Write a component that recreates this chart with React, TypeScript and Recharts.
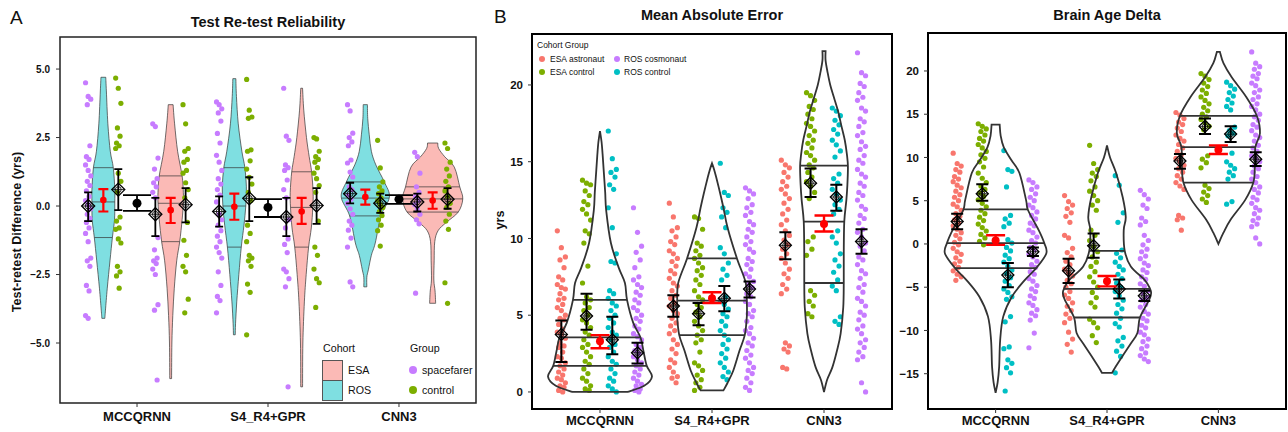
import React from 'react';
import { ScatterChart, Scatter, XAxis, YAxis, ReferenceArea } from 'recharts';

const FONT = '"Liberation Sans", Arial, Helvetica, sans-serif';
const PURPLE = '#C77CFF';
const GREEN = '#7CAE00';
const CYAN = '#00BFC4';
const SALMON = '#F8766D';

const models = ['MCCQRNN', 'S4_R4+GPR', 'CNN3'];

// ---------- A: test re-test differences (yrs), one list per model ----------
const trtRosSpacefarer = [
  [4.5, 4.0, 3.9, 3.7, 2.2, 1.8, 1.7, 1.5, 1.3, 1.1, 0.9, 0.75, 0.55, 0.35, 0.2, 0.05, -0.1, -0.3, -0.45, -0.6, -0.8, -1.0, -1.3, -1.9, -2.0, -2.2, -2.9, -3.1, -4.0, -4.1],
  [3.8, 3.7, 3.55, 3.4, 3.1, 2.65, 2.3, 1.85, 1.6, 1.3, 1.0, 0.8, 0.6, 0.4, 0.15, -0.3, -0.5, -0.7, -0.9, -1.1, -1.3, -1.5, -1.7, -1.9, -2.4, -2.9, -3.3, -3.45, -3.9],
  [3.7, 3.47, 2.66, 2.5, 2.34, 2.2, 1.68, 1.57, 1.24, 1.06, 0.7, 0.6, 0.4, 0.25, 0.1, -0.1, -0.3, -0.55, -0.7, -0.88, -1.17, -1.5, -2.77, -2.95],
];
const trtRosControl = [
  [4.67, 4.3, 3.75, 2.85, 2.55, 2.3, 2.2, 2.1, 1.2, 0.9, 0.5, -0.4, -0.55, -0.8, -0.85, -1.2, -1.35, -2.2, -2.4, -2.55, -3.0],
  [4.62, 3.5, 3.25, 3.2, 2.05, 2.0, 1.65, 1.35, 1.05, 0.8, 0.5, 0.2, -0.7, -1.0, -1.3, -1.8, -1.9, -2.0, -2.2, -2.85, -3.15, -4.7],
  [2.4, 1.39, 0.88, 0.7, 0.55, 0.45, 0.3, 0.2, 0.05, -0.05, -0.2, -0.35, -0.5, -0.7, -0.9, -1.46],
];
const trtEsaSpacefarer = [
  [3.0, 2.9, 1.75, 1.35, 1.0, 0.85, 0.7, 0.5, 0.3, -1.15, -1.6, -1.9, -2.0, -2.1, -2.3, -2.5, -3.6, -3.8, -6.35],
  [4.3, 2.55, 2.4, 1.5, 1.4, 1.3, 0.95, 0.6, 0.3, -0.5, -0.8, -1.2, -1.4, -1.7, -2.3, -2.4, -2.65, -2.95, -6.6],
  [1.96, 1.8, 1.2, 0.7, 0.5, 0.35, 0.2, 0.05, -0.1, -0.3, -0.5, -0.65, -3.18],
];
const trtEsaControl = [
  [3.7, 3.0, 2.1, 2.0, 1.7, 1.6, 1.3, 1.2, 0.85, 0.6, 0.3, -0.6, -1.25, -1.8, -2.2, -2.4, -3.4, -3.9],
  [2.5, 2.45, 2.0, 1.8, 1.7, 1.6, 1.4, 1.2, 1.0, 0.75, 0.5, -0.55, -1.5, -1.8, -2.3, -2.65, -2.8, -3.7],
  [2.3, 2.1, 1.6, 1.35, 1.1, 0.9, 0.7, 0.55, 0.35, 0.1, -0.05, -0.3, -0.55, -0.85, -2.8, -3.55],
];
// [mean, lower, upper] per model
const trtRosSpacefarerMean = [[0.0, -0.55, 0.5], [-0.2, -0.75, 0.35], [0.45, 0.1, 0.85]];
const trtRosControlMean = [[0.6, -0.15, 1.35], [0.28, -0.55, 1.05], [0.1, -0.25, 0.45]];
const trtEsaSpacefarerMean = [[-0.3, -1.1, 0.3], [-0.4, -1.1, 0.3], [0.15, -0.2, 0.45]];
const trtEsaControlMean = [[0.05, -0.6, 0.65], [0.02, -0.65, 0.65], [0.25, -0.1, 0.65]];
const trtRosMean = [[0.22, -0.2, 0.62], [-0.03, -0.5, 0.45], [0.33, 0.05, 0.6]];
const trtEsaMean = [[-0.15, -0.62, 0.3], [-0.2, -0.65, 0.3], [0.2, -0.1, 0.5]];
const trtAllMean = [[0.1, -0.18, 0.4], [-0.05, -0.4, 0.25], [0.25, 0.08, 0.4]];
// violin density profiles [value, density]
const trtRosViolin = [
  [[4.7, 0.08], [4.2, 0.1], [3.0, 0.15], [2.0, 0.23], [1.4, 0.33], [0.6, 0.38], [0.15, 0.38], [-0.5, 0.37], [-1.15, 0.3], [-2.0, 0.22], [-3.0, 0.13], [-3.8, 0.07], [-4.1, 0.05]],
  [[4.65, 0.05], [4.0, 0.07], [3.0, 0.13], [2.0, 0.25], [1.4, 0.35], [0.7, 0.4], [0.0, 0.38], [-0.7, 0.32], [-1.5, 0.23], [-2.5, 0.15], [-3.5, 0.08], [-4.3, 0.04], [-4.7, 0.03]],
  [[3.7, 0.07], [3.2, 0.08], [2.6, 0.13], [2.0, 0.2], [1.5, 0.35], [0.88, 0.63], [0.33, 0.8], [-0.36, 0.52], [-1.35, 0.33], [-1.8, 0.2], [-2.33, 0.1], [-2.6, 0.05], [-2.95, 0.05]],
];
const trtEsaViolin = [
  [[3.7, 0.08], [3.0, 0.13], [2.0, 0.23], [1.1, 0.38], [0.5, 0.42], [0.1, 0.42], [-0.5, 0.38], [-1.3, 0.3], [-2.0, 0.2], [-3.0, 0.12], [-4.0, 0.07], [-5.0, 0.04], [-6.3, 0.03]],
  [[4.3, 0.03], [3.5, 0.07], [2.5, 0.16], [1.8, 0.25], [1.25, 0.33], [0.5, 0.38], [-0.05, 0.37], [-0.8, 0.32], [-1.5, 0.23], [-2.5, 0.15], [-3.5, 0.09], [-5.0, 0.04], [-6.6, 0.03]],
  [[2.3, 0.17], [2.1, 0.2], [1.8, 0.4], [1.42, 0.72], [0.7, 0.9], [0.26, 1.0], [-0.22, 0.85], [-0.6, 0.45], [-0.9, 0.18], [-1.3, 0.07], [-2.0, 0.05], [-2.7, 0.04], [-3.1, 0.08], [-3.55, 0.1]],
];
const trtRosQuantiles = [[1.4, 0.15, -1.15], [1.4, 0.0, -1.5], [0.88, 0.29, -0.36]];
const trtEsaQuantiles = [[1.1, 0.1, -1.3], [1.25, -0.05, -1.5], [0.7, 0.26, -0.22]];

// ---------- B: mean absolute error (yrs) ----------
const maeEsaAstronaut = [
  [10.5, 9.4, 8.8, 8.6, 8.1, 7.5, 7.3, 7.0, 6.8, 6.7, 6.4, 6.1, 6.0, 5.7, 5.5, 5.3, 5.0, 4.8, 4.7, 4.4, 4.1, 3.9, 3.8, 3.5, 3.2, 3.0, 2.9, 2.6, 2.3, 2.2, 1.9, 1.7, 1.5, 1.3, 1.1, 0.9, 0.8, 0.6, 0.4, 0.3, 0.1, 0.0],
  [12.3, 11.4, 10.7, 10.5, 10.1, 9.8, 9.6, 9.2, 9.0, 8.7, 8.5, 8.2, 7.9, 7.7, 7.4, 7.1, 6.9, 6.6, 6.3, 6.1, 5.8, 5.6, 5.3, 5.1, 4.8, 4.5, 4.3, 4.0, 3.8, 3.4, 3.1, 2.8, 2.5, 2.1, 1.9, 1.6, 1.3, 1.0, 0.9, 0.6],
  [15.1, 14.8, 14.6, 14.3, 14.0, 13.7, 13.4, 13.2, 12.9, 12.6, 12.3, 11.9, 11.6, 11.2, 10.9, 10.5, 10.2, 9.9, 9.6, 9.3, 9.0, 8.7, 8.4, 8.0, 7.7, 7.4, 7.0, 6.7, 6.4, 3.2, 3.0, 2.8, 2.6, 1.6, 1.5],
];
const maeEsaControl = [
  [13.8, 13.6, 13.5, 13.1, 12.8, 12.4, 12.2, 11.9, 11.6, 11.2, 10.5, 10.3, 9.7, 8.2, 7.1, 6.2, 6.0, 5.8, 5.5, 5.3, 5.0, 4.7, 4.5, 4.2, 3.9, 3.7, 3.4, 3.1, 2.9, 2.6, 2.3, 2.0, 1.8, 1.5, 1.2, 0.9, 0.7, 0.4, 0.2, 0.1],
  [11.4, 11.3, 10.6, 9.7, 9.5, 9.2, 8.9, 8.7, 8.4, 8.1, 7.9, 7.6, 7.3, 7.0, 6.6, 6.2, 6.0, 5.7, 5.5, 5.2, 4.9, 4.6, 4.3, 4.0, 3.7, 3.4, 3.2, 2.6, 1.9, 1.7, 1.4, 1.1, 0.8, 0.6, 0.3, 0.1],
  [19.5, 19.3, 19.0, 18.6, 18.4, 18.1, 17.8, 17.5, 17.3, 17.0, 16.7, 16.4, 16.2, 15.9, 15.6, 15.4, 15.1, 14.8, 14.6, 14.3, 14.0, 13.7, 13.4, 13.0, 12.6, 10.1, 9.8, 9.3, 8.9, 6.6, 6.3, 5.9, 5.6, 5.1, 4.9],
];
const maeRosControl = [
  [17.0, 15.2, 14.5, 14.3, 14.0, 13.5, 13.2, 12.0, 10.7, 9.0, 8.5, 8.4, 6.6, 6.4, 6.1, 5.8, 5.6, 5.3, 5.0, 4.8, 4.5, 4.2, 3.9, 3.7, 3.4, 3.1, 2.9, 2.6, 2.3, 2.0, 1.8, 1.5, 1.2, 0.9, 0.7, 0.4, 0.2, 0.0],
  [14.9, 13.0, 12.8, 12.0, 11.7, 11.4, 10.7, 9.4, 9.0, 8.4, 8.0, 7.6, 7.3, 6.2, 5.9, 5.7, 5.4, 5.1, 4.9, 4.6, 4.3, 4.0, 3.7, 3.4, 3.1, 2.8, 2.5, 2.2, 1.9, 1.6, 1.3, 1.0, 0.8],
  [18.5, 18.3, 18.0, 17.7, 17.4, 17.1, 16.8, 16.4, 16.1, 15.7, 15.3, 14.2, 13.9, 13.6, 13.2, 12.9, 12.5, 12.2, 11.9, 11.6, 10.5, 10.1, 9.7, 9.0, 8.6, 8.2, 7.8, 7.3, 6.9, 6.6, 4.9, 4.6, 4.4],
];
const maeRosCosmonaut = [
  [12.0, 10.4, 9.5, 9.1, 8.6, 8.1, 7.5, 7.3, 7.0, 6.8, 6.5, 6.3, 6.0, 5.8, 5.5, 5.3, 5.0, 4.8, 4.6, 4.3, 4.1, 3.8, 3.6, 3.4, 3.1, 2.9, 2.7, 2.5, 2.3, 2.1, 1.9, 1.7, 1.5, 1.3, 1.1, 0.9, 0.7, 0.5, 0.4, 0.2, 0.1, 0.0],
  [13.3, 13.1, 12.9, 12.6, 12.2, 12.0, 11.7, 11.5, 11.1, 10.9, 10.6, 10.4, 10.1, 9.8, 9.6, 9.3, 9.1, 8.7, 8.5, 8.3, 8.0, 7.7, 7.5, 7.2, 7.0, 6.8, 6.4, 6.2, 5.9, 5.7, 5.3, 5.1, 4.9, 4.6, 4.2, 4.0, 3.8, 3.5, 3.2, 3.0, 2.7, 2.4, 2.2, 1.9, 1.6, 1.4, 1.2, 0.9, 0.6, 0.3, 0.1],
  [22.1, 20.8, 20.6, 20.1, 19.9, 19.5, 19.2, 19.0, 18.5, 18.3, 17.8, 17.6, 17.3, 16.9, 16.7, 16.3, 16.0, 15.8, 15.4, 15.1, 14.9, 14.5, 14.2, 14.0, 13.6, 13.4, 13.0, 12.8, 12.5, 12.1, 11.9, 11.5, 11.3, 11.0, 10.6, 10.4, 10.1, 9.7, 9.5, 9.2, 8.8, 8.6, 8.3, 7.9, 7.7, 7.4, 7.0, 6.8, 6.5, 6.1, 5.9, 5.6, 5.2, 5.0, 4.7, 4.3, 4.1, 3.8, 3.4, 3.2, 2.9, 2.6, 2.3, 2.1, 0.6, 0.0],
];
const maeEsaAstronautMean = [[3.75, 1.95, 4.65], [5.6, 4.9, 6.3], [9.55, 8.65, 10.4]];
const maeEsaControlMean = [[4.95, 4.05, 6.4], [5.1, 4.35, 5.8], [13.6, 12.7, 14.55]];
const maeRosControlMean = [[3.4, 2.45, 4.9], [6.1, 5.25, 6.9], [12.7, 11.8, 13.5]];
const maeRosCosmonautMean = [[2.55, 1.85, 3.2], [6.7, 6.15, 7.2], [9.8, 9.0, 10.6]];
const maeAllMean = [[3.3, 2.85, 3.7], [6.1, 5.8, 6.5], [10.95, 10.45, 11.5]];
const maeViolin = [
  [[0, 0.53], [0.4, 0.85], [1.0, 1.0], [1.7, 0.9], [2.6, 0.84], [3.55, 0.78], [4.5, 0.64], [6.0, 0.52], [7.1, 0.48], [8.1, 0.36], [9.7, 0.21], [11.8, 0.12], [13.0, 0.1], [14.5, 0.07], [15.5, 0.05], [16.3, 0.03], [17.0, 0.0]],
  [[0.1, 0.22], [0.6, 0.3], [1.4, 0.41], [2.7, 0.53], [3.7, 0.63], [4.9, 0.67], [5.9, 0.67], [7.1, 0.65], [8.7, 0.48], [10.7, 0.3], [12.0, 0.22], [12.9, 0.16], [14.0, 0.08], [14.5, 0.04], [14.9, 0.0]],
  [[0, 0], [0.8, 0.06], [1.6, 0.16], [2.7, 0.25], [3.8, 0.32], [5.5, 0.37], [7.1, 0.38], [9.0, 0.38], [11.1, 0.39], [12.5, 0.43], [13.5, 0.45], [14.7, 0.46], [15.5, 0.44], [16.4, 0.4], [17.4, 0.33], [18.3, 0.27], [19.2, 0.19], [20.0, 0.12], [20.8, 0.07], [21.6, 0.03], [22.2, 0.03]],
];
const maeQuantiles = [[6.0, 3.55, 1.7], [8.7, 5.95, 3.7], [14.75, 11.1, 7.1]];

// ---------- C: brain age delta (yrs) ----------
const deltaEsaAstronaut = [
  [10.5, 9.3, 9.0, 8.6, 8.3, 7.8, 7.5, 7.2, 6.8, 6.5, 6.1, 5.7, 5.4, 5.0, 4.6, 4.3, 3.9, 3.5, 3.2, 2.8, 2.4, 2.1, 1.7, 1.3, 1.0, 0.6, 0.2, -0.1, -0.5, -0.9, -1.2, -1.6, -2.0, -2.3, -2.7, -3.1, -3.5, -3.8, -4.2],
  [5.6, 4.9, 4.5, 4.1, 3.6, 3.2, 2.5, 1.0, 0.7, -0.5, -1.0, -1.5, -2.0, -2.4, -2.9, -3.3, -3.7, -4.2, -4.6, -5.0, -5.5, -5.9, -6.3, -6.8, -7.2, -7.7, -8.1, -8.6, -9.1, -10.2, -11.0, -11.6, -12.5],
  [15.2, 14.9, 14.5, 14.1, 13.8, 13.4, 13.0, 12.6, 12.2, 11.9, 11.5, 11.1, 10.7, 10.3, 9.9, 9.5, 9.1, 8.7, 8.3, 7.9, 7.5, 7.1, 6.7, 6.3, 3.3, 3.0, 2.8, 1.6],
];
const deltaEsaControl = [
  [13.9, 13.6, 13.3, 13.0, 12.6, 12.2, 11.9, 11.5, 11.1, 10.7, 10.3, 9.9, 9.5, 8.9, 8.2, 7.6, 7.1, 6.7, 6.3, 5.9, 5.5, 5.1, 4.7, 4.3, 3.9, 3.5, 3.1, 2.7, 2.3, 1.9, 1.5, 1.1, 0.7, 0.3, -0.1],
  [11.4, 9.3, 8.6, 8.2, 7.8, 7.3, 6.6, 6.1, 5.6, 5.0, 4.5, 3.9, 1.6, 1.0, 0.4, -0.3, -0.9, -1.5, -2.1, -2.6, -3.2, -3.8, -4.4, -5.0, -5.6, -6.2, -6.8, -7.3, -8.7, -9.1, -9.7, -10.6, -11.4],
  [19.7, 19.4, 19.0, 18.6, 18.2, 17.8, 17.4, 17.0, 16.6, 16.2, 15.8, 15.4, 15.0, 14.7, 14.4, 14.0, 13.6, 13.2, 10.2, 9.8, 9.4, 8.8, 6.8, 6.4, 6.0, 5.6, 5.2, 4.8],
];
const deltaRosControl = [
  [10.8, 8.6, 8.4, 6.6, 3.3, 2.9, 2.4, 2.0, 0.5, 0.1, -0.4, -0.8, -1.3, -1.7, -2.1, -2.6, -3.0, -3.4, -3.9, -4.3, -4.8, -5.2, -5.6, -6.1, -6.4, -8.4, -9.0, -11.9, -12.1, -13.4, -13.8, -14.3, -14.9, -17.0],
  [7.9, 6.8, 3.6, 2.5, -0.7, -1.1, -1.6, -2.1, -2.6, -3.0, -3.5, -4.0, -4.5, -5.0, -5.5, -6.0, -6.5, -7.0, -7.5, -8.0, -8.6, -9.2, -9.6, -10.8, -11.2, -11.8, -12.4, -13.0, -14.9],
  [18.7, 18.3, 17.9, 17.5, 17.1, 16.7, 16.3, 15.9, 15.5, 13.5, 13.1, 12.8, 12.5, 10.5, 9.5, 9.1, 8.7, 8.3, 7.9, 7.5, 4.9, 4.6],
];
const deltaRosCosmonaut = [
  [7.4, 7.1, 6.6, 6.3, 5.8, 5.4, 5.0, 4.5, 4.2, 3.7, 3.3, 2.9, 2.4, 2.1, 1.6, 1.3, 0.8, 0.4, 0.1, -0.4, -0.7, -1.2, -1.5, -2.0, -2.4, -2.7, -3.2, -3.5, -4.0, -4.3, -4.8, -5.2, -5.5, -6.0, -6.3, -6.8, -7.1, -7.6, -8.0, -8.3, -8.8, -10.3, -12.0],
  [6.2, 5.7, 5.2, 4.5, 4.1, 3.0, 2.6, 2.2, 1.0, 0.4, -0.1, -0.6, -0.9, -1.4, -1.7, -2.2, -2.5, -3.0, -3.3, -3.8, -4.1, -4.6, -4.9, -5.4, -5.7, -6.2, -6.5, -7.0, -7.3, -7.8, -8.1, -8.6, -8.9, -9.4, -9.7, -10.2, -10.5, -11.0, -11.3, -11.8, -12.1, -12.6, -12.9, -13.3, -13.6],
  [22.2, 20.9, 20.5, 20.2, 19.7, 19.4, 19.1, 18.6, 18.3, 17.8, 17.5, 17.0, 16.7, 16.2, 15.9, 15.5, 15.0, 14.7, 14.3, 13.8, 13.5, 13.1, 12.6, 12.3, 11.9, 11.4, 11.1, 10.7, 10.2, 9.9, 9.5, 9.0, 8.7, 8.3, 7.8, 7.5, 7.1, 6.6, 6.3, 5.9, 5.4, 5.1, 4.7, 4.2, 3.9, 3.5, 3.0, 2.7, 2.3, 2.0, 0.7, 0.0],
];
const deltaEsaAstronautMean = [[2.6, 1.7, 3.5], [-3.1, -4.5, -1.7], [9.6, 8.7, 10.4]];
const deltaEsaControlMean = [[5.8, 5.0, 6.9], [-0.2, -1.6, 1.2], [13.6, 12.7, 14.5]];
const deltaRosControlMean = [[-3.6, -5.0, -2.2], [-5.2, -6.3, -4.1], [12.7, 11.8, 13.6]];
const deltaRosCosmonautMean = [[-0.9, -1.4, -0.4], [-6.0, -6.6, -5.4], [9.8, 9.0, 10.6]];
const deltaAllMean = [[0.4, -0.1, 1.0], [-4.3, -4.9, -3.7], [10.9, 10.4, 11.4]];
const deltaViolin = [
  [[-17.2, 0], [-16.0, 0.04], [-14.2, 0.07], [-11.1, 0.09], [-8.4, 0.15], [-6.1, 0.32], [-4.2, 0.57], [-2.8, 0.8], [-1.1, 1.0], [0.1, 0.96], [1.6, 0.85], [3.9, 0.64], [5.1, 0.6], [8.2, 0.47], [9.7, 0.31], [11.2, 0.16], [12.5, 0.1], [13.8, 0.08]],
  [[-14.9, 0.1], [-14.2, 0.17], [-13.0, 0.3], [-11.5, 0.47], [-10.3, 0.6], [-8.5, 0.65], [-6.5, 0.83], [-5.7, 0.87], [-5.2, 0.85], [-4.2, 0.75], [-2.6, 0.47], [-0.8, 0.35], [1.6, 0.33], [3.1, 0.37], [5.4, 0.31], [8.2, 0.18], [10.0, 0.06], [11.4, 0]],
  [[0, 0], [1.3, 0.1], [2.8, 0.24], [5.1, 0.53], [7.1, 0.69], [9.0, 0.72], [11.2, 0.73], [12.8, 0.82], [14.8, 0.76], [17.0, 0.55], [19.3, 0.26], [20.9, 0.1], [22.2, 0.03]],
];
const deltaQuantiles = [[4.0, 0.1, -2.8], [-0.8, -5.2, -8.5], [14.8, 11.2, 7.1]];

// ---------- helpers ----------
type Pt = { x: number; y: number };
const jitter = (i: number) => ((i * 3) % 7) / 3 - 1;

function pointRows(groups: number[][], offset: number, spread: number) {
  return groups.flatMap((vals, m) => vals.map((y, i) => ({ x: m + 1 + offset + jitter(i) * spread, y })));
}
function markRows(stats: number[][], offset: number) {
  return stats.map(([y], m) => ({ x: m + 1 + offset, y }));
}
function rangeRows(stats: number[][], offset: number) {
  return stats.flatMap(([, lo, hi], m) => [{ x: m + 1 + offset, y: lo }, { x: m + 1 + offset, y: hi }]);
}
function sortProfile(p: number[][]) {
  return [...p].sort((a, b) => a[0] - b[0]);
}
function outlineRows(profile: number[][], center: number, scale: number) {
  const asc = sortProfile(profile);
  const right = asc.map(([v, d]) => ({ x: center + d * scale, y: v }));
  const left = [...asc].reverse().map(([v, d]) => ({ x: center - d * scale, y: v }));
  return [...right, ...left];
}
function widthAt(profile: number[][], v: number) {
  const asc = sortProfile(profile);
  for (let i = 0; i < asc.length - 1; i++) {
    const [v0, d0] = asc[i];
    const [v1, d1] = asc[i + 1];
    if (v >= v0 && v <= v1) return d0 + ((v - v0) / (v1 - v0)) * (d1 - d0);
  }
  return 0;
}
function quantileRows(profile: number[][], qs: number[], center: number, scale: number) {
  return qs.flatMap((q) => {
    const w = widthAt(profile, q) * scale;
    return [{ x: center - w, y: q }, { x: center + w, y: q }];
  });
}

function smooth(pts: Pt[]) {
  let d = '';
  for (let i = 0; i < pts.length - 1; i++) {
    const p0 = pts[Math.max(i - 1, 0)];
    const p1 = pts[i];
    const p2 = pts[i + 1];
    const p3 = pts[Math.min(i + 2, pts.length - 1)];
    d += `C${p1.x + (p2.x - p0.x) / 6},${p1.y + (p2.y - p0.y) / 6} ${p2.x - (p3.x - p1.x) / 6},${p2.y - (p3.y - p1.y) / 6} ${p2.x},${p2.y}`;
  }
  return d;
}

const hidden = () => <g />;
const dot = (color: string, r: number) => (p: any) => <circle cx={p.cx} cy={p.cy} r={r} fill={color} />;
const diamond = (r: number) => (p: any) => (
  <g>
    <path d={`M${p.cx},${p.cy - r}L${p.cx + r},${p.cy}L${p.cx},${p.cy + r}L${p.cx - r},${p.cy}Z`} fill="none" stroke="#000" strokeWidth={1.3} />
    <circle cx={p.cx} cy={p.cy} r={r * 0.45} fill="none" stroke="#000" strokeWidth={0.8} />
    <path d={`M${p.cx - r},${p.cy}H${p.cx + r}M${p.cx},${p.cy - r}V${p.cy + r}`} stroke="#000" strokeWidth={0.8} />
  </g>
);
const violinPath = (fill: string, fillOpacity: number, stroke: string, sw: number) => (p: any) => {
  const pts: Pt[] = p.points;
  const n = pts.length / 2;
  const right = pts.slice(0, n);
  const left = pts.slice(n);
  const d = `M${right[0].x},${right[0].y}${smooth(right)}L${left[0].x},${left[0].y}${smooth(left)}Z`;
  return <path d={d} fill={fill} fillOpacity={fillOpacity} stroke={stroke} strokeWidth={sw} />;
};
const segments = (stroke: string, sw: number) => (p: any) => {
  const pts: Pt[] = p.points;
  let d = '';
  for (let i = 0; i + 1 < pts.length; i += 2) d += `M${pts[i].x},${pts[i].y}L${pts[i + 1].x},${pts[i + 1].y}`;
  return <path d={d} stroke={stroke} strokeWidth={sw} fill="none" />;
};
// vertical range with caps; each pair of points is (lower, upper)
const whiskers = (stroke: string, sw: number, cap: number) => (p: any) => {
  const pts: Pt[] = p.points;
  let d = '';
  for (let i = 0; i + 1 < pts.length; i += 2) {
    const a = pts[i];
    const b = pts[i + 1];
    d += `M${a.x},${a.y}L${b.x},${b.y}M${a.x - cap},${a.y}H${a.x + cap}M${b.x - cap},${b.y}H${b.x + cap}`;
  }
  return <path d={d} stroke={stroke} strokeWidth={sw} fill="none" />;
};

const minus = (s: string) => s.replace('-', '\u2212');

function violins(key: string, profiles: number[][][], quants: number[][], offset: number, scale: number, fill: string, fillOpacity: number, stroke: string, sw: number) {
  return profiles.flatMap((prof, m) => [
    <Scatter key={`${key}-v${m}`} data={outlineRows(prof, m + 1 + offset, scale)} shape={hidden} line={violinPath(fill, fillOpacity, stroke, sw)} lineType="joint" isAnimationActive={false} />,
    <Scatter key={`${key}-q${m}`} data={quantileRows(prof, quants[m], m + 1 + offset, scale)} shape={hidden} line={segments(stroke, sw)} lineType="joint" isAnimationActive={false} />,
  ]);
}
function meanSeries(key: string, stats: number[][], offset: number, shape: any, color: string, cap: number, sw: number) {
  return [
    <Scatter key={`${key}-e`} data={rangeRows(stats, offset)} shape={hidden} line={whiskers(color, sw, cap)} lineType="joint" isAnimationActive={false} />,
    <Scatter key={`${key}-m`} data={markRows(stats, offset)} shape={shape} isAnimationActive={false} />,
  ];
}

const tickStyle = (size: number) => ({ fill: '#111', fontSize: size, fontWeight: 700, fontFamily: FONT });

// layout offsets within each model slot
const A_OFF = { rosSpace: -0.373, rosViolin: -0.257, rosCtrl: -0.143, esaSpace: 0.14, esaViolin: 0.257, esaCtrl: 0.371 };
const BC_OFF = { esaAstro: -0.345, esaCtrl: -0.12, rosCtrl: 0.11, rosCosmo: 0.335 };

const A_X: [number, number] = [0.412, 3.588];
const A_Y: [number, number] = [-7.19, 6.17];
const B_X: [number, number] = [0.393, 3.607];
const B_Y: [number, number] = [-1.11, 23.32];
const C_Y: [number, number] = [-19.08, 24.39];

function Text({ x, y, size, bold, children, center, width }: any) {
  const lh = size * 1.2;
  return (
    <div
      style={{
        position: 'absolute',
        left: center ? x - width / 2 : x,
        top: y - lh / 2,
        width: center ? width : undefined,
        textAlign: center ? 'center' : 'left',
        fontSize: size,
        lineHeight: `${lh}px`,
        fontWeight: bold ? 700 : 400,
        whiteSpace: 'nowrap',
        color: '#111',
      }}
    >
      {children}
    </div>
  );
}

function Dot({ x, y, r, color }: any) {
  return <div style={{ position: 'absolute', left: x - r, top: y - r, width: 2 * r, height: 2 * r, borderRadius: '50%', background: color }} />;
}

function bcPanel(esaAstro: number[][], esaCtrl: number[][], rosCtrl: number[][], rosCosmo: number[][],
  means: number[][][], profiles: number[][][], quants: number[][], scale: number) {
  const spread = 0.036;
  return [
    <Scatter key="p1" data={pointRows(esaAstro, BC_OFF.esaAstro, spread)} shape={dot(SALMON, 2.6)} isAnimationActive={false} />,
    <Scatter key="p2" data={pointRows(esaCtrl, BC_OFF.esaCtrl, spread)} shape={dot(GREEN, 2.6)} isAnimationActive={false} />,
    <Scatter key="p3" data={pointRows(rosCtrl, BC_OFF.rosCtrl, spread)} shape={dot(CYAN, 2.6)} isAnimationActive={false} />,
    <Scatter key="p4" data={pointRows(rosCosmo, BC_OFF.rosCosmo, spread)} shape={dot(PURPLE, 2.6)} isAnimationActive={false} />,
    ...violins('vb', profiles, quants, 0, scale, 'none', 0, '#333', 1.8),
    ...meanSeries('m1', means[0], BC_OFF.esaAstro, diamond(6), '#000', 6, 2),
    ...meanSeries('m2', means[1], BC_OFF.esaCtrl, diamond(6), '#000', 6, 2),
    ...meanSeries('m3', means[2], BC_OFF.rosCtrl, diamond(6), '#000', 6, 2),
    ...meanSeries('m4', means[3], BC_OFF.rosCosmo, diamond(6), '#000', 6, 2),
    ...meanSeries('m5', means[4], 0, dot('#FF0000', 4), '#FF0000', 9.5, 2.4),
  ];
}

export default function App() {
  const xTick = (v: number) => models[Math.round(v) - 1];
  return (
    <div style={{ position: 'absolute', left: 0, top: 0, width: 1288, height: 432, background: '#fff', fontFamily: FONT, overflow: 'hidden' }}>
      {/* Panel A */}
      <div style={{ position: 'absolute', left: 0, top: 0 }}>
        <ScatterChart width={480} height={432} margin={{ top: 37, right: 4, bottom: 0, left: 20 }}>
          <XAxis type="number" dataKey="x" domain={A_X} ticks={[1, 2, 3]} interval={0} tickFormatter={xTick} allowDataOverflow axisLine={false} tickLine={{ stroke: '#333' }} tickSize={4} tickMargin={5} height={29} tick={tickStyle(13)} />
          <YAxis type="number" dataKey="y" domain={A_Y} ticks={[-5, -2.5, 0, 2.5, 5]} interval={0} tickFormatter={(v: number) => minus(v.toFixed(1))} allowDataOverflow axisLine={false} tickLine={{ stroke: '#333' }} tickSize={4} tickMargin={6} width={40} tick={tickStyle(10)} />
          {violins('ra', trtRosViolin, trtRosQuantiles, A_OFF.rosViolin, 0.23, CYAN, 0.5, '#333', 0.7)}
          {violins('ea', trtEsaViolin, trtEsaQuantiles, A_OFF.esaViolin, 0.23, SALMON, 0.5, '#333', 0.7)}
          <Scatter data={pointRows(trtRosSpacefarer, A_OFF.rosSpace, 0.02)} shape={dot(PURPLE, 2.6)} isAnimationActive={false} />
          <Scatter data={pointRows(trtRosControl, A_OFF.rosCtrl, 0.02)} shape={dot(GREEN, 2.6)} isAnimationActive={false} />
          <Scatter data={pointRows(trtEsaSpacefarer, A_OFF.esaSpace, 0.02)} shape={dot(PURPLE, 2.6)} isAnimationActive={false} />
          <Scatter data={pointRows(trtEsaControl, A_OFF.esaCtrl, 0.02)} shape={dot(GREEN, 2.6)} isAnimationActive={false} />
          {meanSeries('a1', trtRosSpacefarerMean, A_OFF.rosSpace, diamond(6.5), '#000', 4, 1.8)}
          {meanSeries('a2', trtRosControlMean, A_OFF.rosCtrl, diamond(6.5), '#000', 4, 1.8)}
          {meanSeries('a3', trtEsaSpacefarerMean, A_OFF.esaSpace, diamond(6.5), '#000', 4, 1.8)}
          {meanSeries('a4', trtEsaControlMean, A_OFF.esaCtrl, diamond(6.5), '#000', 4, 1.8)}
          {meanSeries('a5', trtRosMean, A_OFF.rosViolin, dot('#FF0000', 3.3), '#FF0000', 5, 2.2)}
          {meanSeries('a6', trtEsaMean, A_OFF.esaViolin, dot('#FF0000', 3.3), '#FF0000', 5, 2.2)}
          {meanSeries('a7', trtAllMean, 0, dot('#000', 4.5), '#000', 14, 1.8)}
          <ReferenceArea x1={A_X[0]} x2={A_X[1]} y1={A_Y[0]} y2={A_Y[1]} fill="none" stroke="#222" strokeWidth={1.5} ifOverflow="visible" />
        </ScatterChart>
      </div>

      {/* Panel B */}
      <div style={{ position: 'absolute', left: 490, top: 0 }}>
        <ScatterChart width={404} height={432} margin={{ top: 34, right: 2, bottom: 0, left: 2 }}>
          <XAxis type="number" dataKey="x" domain={B_X} ticks={[1, 2, 3]} interval={0} tickFormatter={xTick} allowDataOverflow axisLine={false} tickLine={{ stroke: '#333' }} tickSize={4} tickMargin={3} height={23} tick={tickStyle(13)} />
          <YAxis type="number" dataKey="y" domain={B_Y} ticks={[0, 5, 10, 15, 20]} interval={0} allowDataOverflow axisLine={false} tickLine={{ stroke: '#333' }} tickSize={4} tickMargin={5} width={40} tick={tickStyle(11.5)} />
          {bcPanel(maeEsaAstronaut, maeEsaControl, maeRosControl, maeRosCosmonaut,
            [maeEsaAstronautMean, maeEsaControlMean, maeRosControlMean, maeRosCosmonautMean, maeAllMean], maeViolin, maeQuantiles, 0.464)}
          <ReferenceArea x1={B_X[0]} x2={B_X[1]} y1={B_Y[0]} y2={B_Y[1]} fill="none" stroke="#000" strokeWidth={2} ifOverflow="visible" />
        </ScatterChart>
      </div>

      {/* Panel C */}
      <div style={{ position: 'absolute', left: 896, top: 0 }}>
        <ScatterChart width={392} height={432} margin={{ top: 33, right: 2, bottom: 0, left: 2 }}>
          <XAxis type="number" dataKey="x" domain={B_X} ticks={[1, 2, 3]} interval={0} tickFormatter={xTick} allowDataOverflow axisLine={false} tickLine={{ stroke: '#333' }} tickSize={4} tickMargin={3} height={23} tick={tickStyle(13)} />
          <YAxis type="number" dataKey="y" domain={C_Y} ticks={[-15, -10, -5, 0, 5, 10, 15, 20]} interval={0} tickFormatter={(v: number) => minus(String(v))} allowDataOverflow axisLine={false} tickLine={{ stroke: '#333' }} tickSize={4} tickMargin={5} width={30} tick={tickStyle(11.5)} />
          {bcPanel(deltaEsaAstronaut, deltaEsaControl, deltaRosControl, deltaRosCosmonaut,
            [deltaEsaAstronautMean, deltaEsaControlMean, deltaRosControlMean, deltaRosCosmonautMean, deltaAllMean], deltaViolin, deltaQuantiles, 0.455)}
          <ReferenceArea x1={B_X[0]} x2={B_X[1]} y1={C_Y[0]} y2={C_Y[1]} fill="none" stroke="#000" strokeWidth={2} ifOverflow="visible" />
        </ScatterChart>
      </div>

      {/* titles and labels */}
      <Text x={10} y={18} size={19}>A</Text>
      <Text x={494} y={17} size={19}>B</Text>
      <Text x={268} y={23} size={14.5} bold center width={300}>Test Re-test Reliability</Text>
      <Text x={712} y={16} size={14.5} bold center width={300}>Mean Absolute Error</Text>
      <Text x={1107} y={16} size={14.5} bold center width={300}>Brain Age Delta</Text>
      <div style={{ position: 'absolute', left: 17 - 120, top: 232 - 8, width: 240, height: 16, lineHeight: '16px', textAlign: 'center', fontSize: 12.7, fontWeight: 700, transform: 'rotate(-90deg)', color: '#111' }}>
        Test-retest Difference (yrs)
      </div>
      <div style={{ position: 'absolute', left: 500 - 30, top: 220 - 8, width: 60, height: 16, lineHeight: '16px', textAlign: 'center', fontSize: 12.7, fontWeight: 700, transform: 'rotate(-90deg)', color: '#111' }}>
        yrs
      </div>

      {/* legend A */}
      <Text x={323} y={348} size={10.7}>Cohort</Text>
      <div style={{ position: 'absolute', left: 322, top: 360, width: 19, height: 19, background: 'rgba(248,118,109,0.5)', border: '1px solid #555' }} />
      <div style={{ position: 'absolute', left: 322, top: 380, width: 19, height: 19, background: 'rgba(0,191,196,0.5)', border: '1px solid #555' }} />
      <Text x={348} y={370} size={10.7}>ESA</Text>
      <Text x={348} y={390} size={10.7}>ROS</Text>
      <Text x={410} y={348} size={10.7}>Group</Text>
      <Dot x={413} y={370} r={4.3} color={PURPLE} />
      <Dot x={413} y={390} r={4.3} color={GREEN} />
      <Text x={422} y={370} size={10.7}>spacefarer</Text>
      <Text x={422} y={390} size={10.7}>control</Text>

      {/* legend B */}
      <Text x={537} y={45.5} size={8.5}>Cohort Group</Text>
      <Dot x={542} y={59} r={3} color={SALMON} />
      <Dot x={542} y={72} r={3} color={GREEN} />
      <Dot x={617} y={59} r={3} color={PURPLE} />
      <Dot x={617} y={72} r={3} color={CYAN} />
      <Text x={550} y={59} size={8.5}>ESA astronaut</Text>
      <Text x={550} y={72} size={8.5}>ESA control</Text>
      <Text x={624} y={59} size={8.5}>ROS cosmonaut</Text>
      <Text x={624} y={72} size={8.5}>ROS control</Text>
    </div>
  );
}
